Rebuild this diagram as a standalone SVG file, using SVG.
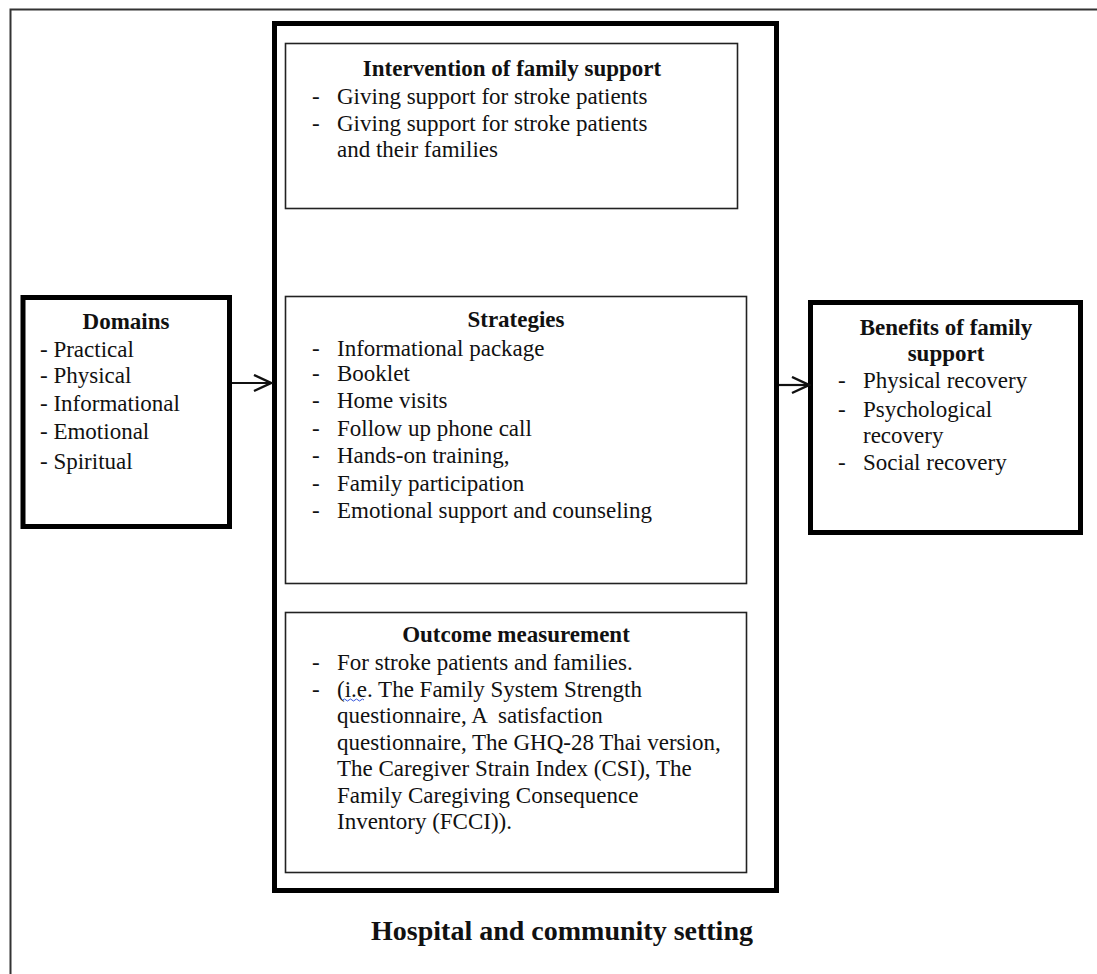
<svg xmlns="http://www.w3.org/2000/svg" width="1097" height="974" viewBox="0 0 1097 974">
<style>
.t{font-family:"Liberation Serif","Times New Roman",serif;font-size:23px;fill:#111;white-space:pre}
.b{font-weight:bold}
.m{text-anchor:middle}
.thin{fill:#fff;stroke:#222;stroke-width:1.6}
.thick{fill:#fff;stroke:#000;stroke-width:5}
.conn{stroke:#111;stroke-width:2.2;fill:none}
</style>
<defs>
<marker id="arr" markerWidth="20" markerHeight="20" refX="18" refY="9" orient="auto" markerUnits="userSpaceOnUse">
<path d="M1,1 L18,9 L1,17" fill="none" stroke="#111" stroke-width="2.4"/>
</marker>
</defs>
<rect width="1097" height="974" fill="#fff"/>
<g id="setting">
<path d="M10.5,974 V9.5 H1097" fill="none" stroke="#333" stroke-width="2"/>
<text class="t b m" x="562" y="940" style="font-size:28px">Hospital and community setting</text>
</g>
<g id="middle">
<rect class="thick" x="274.5" y="23.5" width="502" height="867"/>
</g>
<g id="intervention">
<rect class="thin" x="285.5" y="43.5" width="452" height="165"/>
<text class="t b m" x="512" y="76">Intervention of family support</text>
<text class="t" x="312" y="104">-</text><text class="t" x="337" y="104">Giving support for stroke patients</text>
<text class="t" x="312" y="131">-</text><text class="t" x="337" y="131">Giving support for stroke patients</text>
<text class="t" x="337" y="157">and their families</text>
</g>
<g id="strategies">
<rect class="thin" x="285.5" y="296.5" width="461" height="287"/>
<text class="t b m" x="516" y="327">Strategies</text>
<text class="t" x="312" y="356">-</text><text class="t" x="337" y="356">Informational package</text>
<text class="t" x="312" y="381">-</text><text class="t" x="337" y="381">Booklet</text>
<text class="t" x="312" y="408">-</text><text class="t" x="337" y="408">Home visits</text>
<text class="t" x="312" y="436">-</text><text class="t" x="337" y="436">Follow up phone call</text>
<text class="t" x="312" y="463">-</text><text class="t" x="337" y="463">Hands-on training,</text>
<text class="t" x="312" y="491">-</text><text class="t" x="337" y="491">Family participation</text>
<text class="t" x="312" y="518">-</text><text class="t" x="337" y="518">Emotional support and counseling</text>
</g>
<g id="outcome">
<rect class="thin" x="285.5" y="612.5" width="461" height="260"/>
<text class="t b m" x="516" y="642">Outcome measurement</text>
<text class="t" x="312" y="670">-</text><text class="t" x="337" y="670">For stroke patients and families.</text>
<text class="t" x="312" y="697">-</text><text class="t" x="337" y="697">(i.e. The Family System Strength</text>
<path d="M343,700 q1.5,-2 3,0 t3,0 t3,0 t3,0 t3,0 t3,0 t3,0" fill="none" stroke="#3355dd" stroke-width="1"/>
<text class="t" x="337" y="723">questionnaire, A  satisfaction</text>
<text class="t" x="337" y="750">questionnaire, The GHQ-28 Thai version,</text>
<text class="t" x="337" y="776">The Caregiver Strain Index (CSI), The</text>
<text class="t" x="337" y="803">Family Caregiving Consequence</text>
<text class="t" x="337" y="829">Inventory (FCCI)).</text>
</g>
<g id="domains">
<rect class="thick" x="23" y="297.5" width="206.5" height="229"/>
<text class="t b m" x="126" y="329">Domains</text>
<text class="t" x="40" y="357">- Practical</text>
<text class="t" x="40" y="383">- Physical</text>
<text class="t" x="40" y="411">- Informational</text>
<text class="t" x="40" y="439">- Emotional</text>
<text class="t" x="40" y="469">- Spiritual</text>
</g>
<g id="benefits">
<rect class="thick" x="810.5" y="302.5" width="270" height="230"/>
<text class="t b m" x="946" y="335">Benefits of family</text>
<text class="t b m" x="946" y="361">support</text>
<text class="t" x="838" y="388">-</text><text class="t" x="863" y="388">Physical recovery</text>
<text class="t" x="838" y="417">-</text><text class="t" x="863" y="417">Psychological</text>
<text class="t" x="863" y="443">recovery</text>
<text class="t" x="838" y="470">-</text><text class="t" x="863" y="470">Social recovery</text>
</g>
<g id="connectors">
<line class="conn" x1="232" y1="383" x2="271" y2="383" marker-end="url(#arr)"/>
<line class="conn" x1="779" y1="385" x2="809" y2="385" marker-end="url(#arr)"/>
</g>
</svg>
